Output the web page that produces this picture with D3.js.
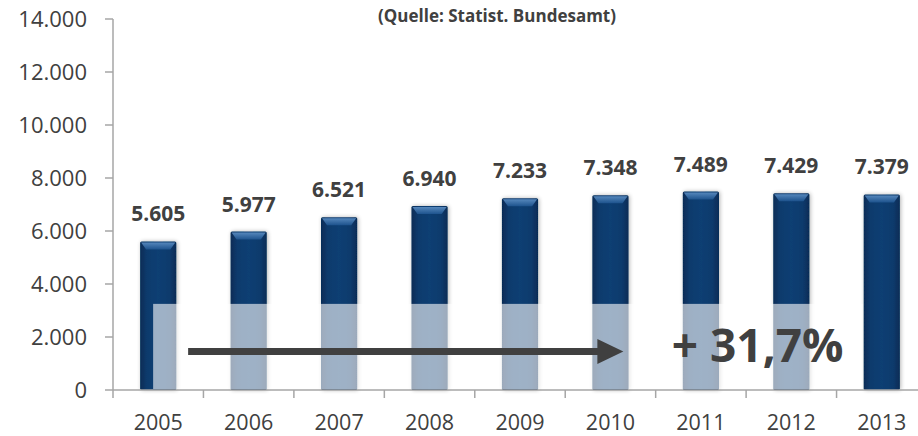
<!DOCTYPE html>
<html>
<head>
<meta charset="utf-8">
<script src="https://cdn.jsdelivr.net/npm/d3@7"></script>
<style>
    body { margin: 0; background: #fff; }
    svg { display: block; font-family: "Open Sans", sans-serif; }
</style>
</head>
<body>
<svg id="chart" width="918" height="436"></svg>
<script>
// Werte (Quelle: Statist. Bundesamt)
const years = ["2005", "2006", "2007", "2008", "2009", "2010", "2011", "2012", "2013"];
const values = [5605, 5977, 6521, 6940, 7233, 7348, 7489, 7429, 7379];
const yTicks = [0, 2000, 4000, 6000, 8000, 10000, 12000, 14000];
const title = "(Quelle: Statist. Bundesamt)";
const growthLabel = "+ 31,7%";

(function () {
    let svg = d3.select("#chart");
    let fmt = d3.formatLocale({ decimal: ",", thousands: ".", grouping: [3], currency: ["", "€"] }).format(",d");

    let x = d3.scaleBand().domain(years).range([113, 927]).paddingInner(0.6).paddingOuter(0.3);
    let y = d3.scaleLinear().domain([0, 14000]).range([390, 19]);

    let defs = svg.append("defs");
    let grad = defs.append("linearGradient").attr("id", "barGrad")
        .attr("x1", "0").attr("x2", "1").attr("y1", "0").attr("y2", "0");
    grad.append("stop").attr("offset", "0%").attr("stop-color", "#062b55");
    grad.append("stop").attr("offset", "18%").attr("stop-color", "#0b3a6c");
    grad.append("stop").attr("offset", "50%").attr("stop-color", "#0e3f73");
    grad.append("stop").attr("offset", "82%").attr("stop-color", "#0b3a6c");
    grad.append("stop").attr("offset", "100%").attr("stop-color", "#062b55");
    let topGrad = defs.append("linearGradient").attr("id", "topGrad")
        .attr("x1", "0").attr("x2", "0").attr("y1", "0").attr("y2", "1");
    topGrad.append("stop").attr("offset", "0%").attr("stop-color", "#5d8fc4");
    topGrad.append("stop").attr("offset", "100%").attr("stop-color", "#1f5590");
    let shadow = defs.append("filter").attr("id", "shadow").attr("x", "-30%").attr("width", "160%");
    shadow.append("feGaussianBlur").attr("in", "SourceAlpha").attr("stdDeviation", 2);
    shadow.append("feOffset").attr("dx", 1).attr("dy", 0).attr("result", "b");
    shadow.append("feComponentTransfer").append("feFuncA").attr("type", "linear").attr("slope", 0.3);
    let m = shadow.append("feMerge");
    m.append("feMergeNode");
    m.append("feMergeNode").attr("in", "SourceGraphic");

    // Balken
    let bw = x.bandwidth();
    let bars = svg.append("g").selectAll("g.bar")
        .data(years.map((d, i) => ({ year: d, value: values[i] })))
        .enter().append("g").attr("class", "bar");
    bars.append("rect")
        .attr("x", d => x(d.year))
        .attr("y", d => y(d.value))
        .attr("width", bw)
        .attr("height", d => y(0) - y(d.value))
        .attr("rx", 1.5)
        .attr("fill", "url(#barGrad)")
        .attr("filter", "url(#shadow)");
    bars.append("path")
        .attr("d", d => {
            let x0 = x(d.year), y0 = y(d.value);
            return `M${x0 + 1},${y0 + 1}L${x0 + bw - 1},${y0 + 1}L${x0 + bw - 6},${y0 + 8}L${x0 + 6},${y0 + 8}Z`;
        })
        .attr("fill", "url(#topGrad)")
        .attr("opacity", 0.9);

    // Werte
    svg.append("g").selectAll("text")
        .data(values)
        .enter().append("text")
        .attr("x", (d, i) => x(years[i]) + bw / 2)
        .attr("y", d => y(d) - 20)
        .attr("text-anchor", "middle")
        .attr("font-size", "21px")
        .attr("font-weight", "bold")
        .attr("fill", "#404040")
        .text(d => fmt(d));

    // helles Overlay
    svg.append("rect")
        .attr("x", x("2005") + 13)
        .attr("y", y(3250))
        .attr("width", x("2013") - 1 - (x("2005") + 13))
        .attr("height", y(0) - 1 - y(3250))
        .attr("fill", "#ffffff")
        .attr("opacity", 0.6);

    // Achsen
    let axisColor = "#a6a6a6";
    let ay = svg.append("g");
    ay.append("line").attr("x1", 113).attr("x2", 113).attr("y1", y(14000)).attr("y2", y(0) + 8)
        .attr("stroke", axisColor).attr("stroke-width", 1.5);
    ay.selectAll("line.t").data(yTicks).enter().append("line").attr("class", "t")
        .attr("x1", 105).attr("x2", 113).attr("y1", d => y(d)).attr("y2", d => y(d))
        .attr("stroke", axisColor).attr("stroke-width", 1.5);
    ay.selectAll("text").data(yTicks).enter().append("text")
        .attr("x", 87).attr("y", d => y(d)).attr("dy", "0.36em")
        .attr("text-anchor", "end")
        .attr("font-size", "22px")
        .attr("fill", "#404040")
        .text(d => d === 0 ? "0" : fmt(d));

    let ax = svg.append("g");
    ax.append("line").attr("x1", 113).attr("x2", 927).attr("y1", y(0)).attr("y2", y(0))
        .attr("stroke", axisColor).attr("stroke-width", 1.5);
    let step = x.step();
    ax.selectAll("line.t").data(years).enter().append("line").attr("class", "t")
        .attr("x1", d => x(d) + bw + (step - bw) / 2).attr("x2", d => x(d) + bw + (step - bw) / 2)
        .attr("y1", y(0)).attr("y2", y(0) + 8)
        .attr("stroke", axisColor).attr("stroke-width", 1.5);
    ax.selectAll("text").data(years).enter().append("text")
        .attr("x", d => x(d) + bw / 2).attr("y", 430)
        .attr("text-anchor", "middle")
        .attr("font-size", "21.5px")
        .attr("fill", "#404040")
        .text(d => d);

    // Titel
    svg.append("text")
        .attr("x", 497).attr("y", 22)
        .attr("text-anchor", "middle")
        .attr("font-size", "17px")
        .attr("font-weight", "bold")
        .attr("fill", "#404040")
        .text(title);

    // Pfeil
    let ay0 = y(1450), xs = x("2005") + 48, xe = x("2010") + 31;
    svg.append("path")
        .attr("d", `M${xs},${ay0 - 3.5}L${xe - 26},${ay0 - 3.5}L${xe - 26},${ay0 - 12.5}L${xe},${ay0}L${xe - 26},${ay0 + 12.5}L${xe - 26},${ay0 + 3.5}L${xs},${ay0 + 3.5}Z`)
        .attr("fill", "#404040");

    svg.append("text")
        .attr("x", x("2011") - 11).attr("y", y(1060))
        .attr("font-size", "46px")
        .attr("font-weight", "bold")
        .attr("fill", "#404040")
        .text(growthLabel);
})();
</script>
</body>
</html>
